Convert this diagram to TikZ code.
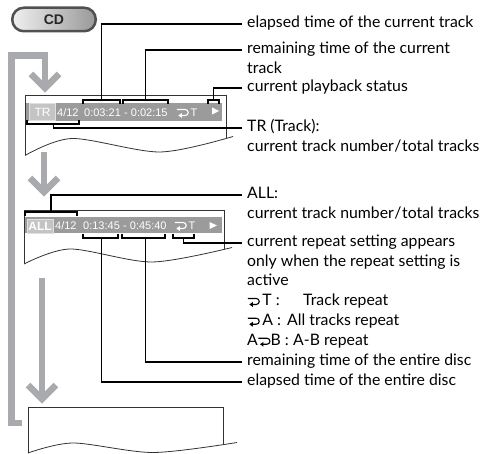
\documentclass[tikz,border=0pt]{standalone}
\usepackage{fontspec}
\setmainfont{Lato}
\newfontfamily\dispfont{Liberation Sans}
\usetikzlibrary{arrows.meta}
\definecolor{agray}{HTML}{A8AAAD}
\definecolor{bgray}{HTML}{9B9B9B}
\definecolor{sgray}{HTML}{C4C4C4}
\definecolor{pillborder}{HTML}{505050}
\newcommand\repsym{\tikz[baseline=0pt,x=1pt,y=1pt]{\draw[line width=1.1pt] (0,7) -- (8.5,7) arc[start angle=90,end angle=-90,radius=3] -- (4.5,1); \fill (1.5,1) -- (5,3.4) -- (5,-1.4) -- cycle;}}
\begin{document}
\begin{tikzpicture}[x=1pt,y=-1pt,
  garrow/.style={draw=agray,line width=6.5pt,line join=miter},
  outline/.style={draw=black!80,line width=0.8pt},
  brk/.style={draw=black,line width=1.5pt,line join=miter},
  lead/.style={draw=black,line width=1.5pt},
  lab/.style={anchor=west,inner xsep=5pt,inner ysep=0pt,text height=7.5pt,text depth=0pt,font=\fontsize{15.8}{18}\selectfont},
  disp/.style={text=white,font=\dispfont\fontsize{11}{12}\selectfont,inner sep=0pt,anchor=base west},
  selbox/.style={fill=sgray,draw=black!12,line width=0.8pt,text=white,font=\dispfont\fontsize{12}{12}\selectfont,inner sep=0pt},
  pill/.style={draw=pillborder,line width=2.5pt,rounded corners=11.5pt,left color=black!6,right color=black!40,minimum width=83.5pt,minimum height=23.5pt,inner sep=0pt,font=\dispfont\bfseries\fontsize{14}{14}\selectfont,text=black!85}]
\useasboundingbox (0,0) rectangle (481,454);

% CD button
\node[pill] (cd) at (54,19.5) {CD};

% gray flow arrows
\draw[garrow] (22,423) -- (11.5,423) -- (11.5,55.5) -- (45,55.5) -- (45,88);
\draw[garrow] (31,74) -- (45,88) -- (59,74);
\draw[garrow] (44,152) -- (44,192);
\draw[garrow] (30,178) -- (44,192) -- (58,178);
\draw[garrow] (42,278) -- (42,399);
\draw[garrow] (28,385) -- (42,399) -- (56,385);

% display 1
\draw[outline] (25,155.5) -- (25,95) -- (226,95) -- (226,138.5);
\draw[outline] plot[smooth,tension=0.5] coordinates {(25,155.5) (72,138.5) (160,152) (233,136.5)};
\fill[bgray] (26,103.5) rectangle (222,121);
\node[selbox,minimum width=26pt,minimum height=16.5pt] (tr) at (42.5,112) {TR};
\node[disp] (d1a) at (57,116.5) {4/12};
\node[disp] (d1b) at (84,116.5) {0:03:21};
\node[disp] (d1c) at (124,116.5) {- 0:02:15};
\node[disp] (d1d) at (176,116.5) {\repsym\,T};
\fill[white] (212,107.5) -- (219,111) -- (212,114.5) -- cycle;

% display 2
\draw[outline] (24,264) -- (24,210) -- (224,210) -- (224,248.5);
\draw[outline] plot[smooth,tension=0.5] coordinates {(24,264) (70,249) (152,262) (232,247.5)};
\fill[bgray] (25,217) rectangle (222,233);
\node[selbox,minimum width=26pt,minimum height=14pt] (all) at (40,226) {\bfseries ALL};
\node[disp] (d2a) at (55,229.5) {4/12};
\node[disp] (d2b) at (83,229.5) {0:13:45};
\node[disp] (d2c) at (123,229.5) {- 0:45:40};
\node[disp] (d2d) at (174,229.5) {\repsym\,T};
\fill[white] (209.5,222) -- (217,225.5) -- (209.5,229) -- cycle;

% display 3
\draw[outline] (28,453) -- (28,407) -- (223,407) -- (223,444);
\draw[outline] plot[smooth,tension=0.5] coordinates {(28,453) (73,443) (153,452.5) (237,442.5)};

% brackets
\draw[brk] (83,104) -- (83,100) -- (120,100) -- (120,104);
\draw[brk] (123,104) -- (123,100) -- (168,100) -- (168,104);
\draw[brk] (208,104) -- (208,100) -- (219,100) -- (219,104);
\draw[brk] (27,120.5) -- (27,124) -- (79,124) -- (79,120.5);
\draw[brk] (25,216) -- (25,212) -- (77,212) -- (77,216);
\draw[brk] (83,233.5) -- (83,238) -- (118,238) -- (118,233.5);
\draw[brk] (122,233.5) -- (122,238) -- (165,238) -- (165,233.5);
\draw[brk] (173,233.5) -- (173,238) -- (194,238) -- (194,233.5);

\coordinate (b1) at (101.5,100);
\coordinate (b2) at (145.5,100);
\coordinate (b3) at (213.5,100);
\coordinate (b4) at (53.5,124);
\coordinate (b5) at (51,212);
\coordinate (b6) at (183.5,238);
\coordinate (b7) at (145.5,238);
\coordinate (b8) at (101.5,238);

% labels
\node[lab] (l1) at (242,24) {elapsed time of the current track};
\node[lab] (l2) at (242,50) {remaining time of the current};
\node[lab] (l2b) at (242,69.7) {track};
\node[lab] (l3) at (242,88) {current playback status};
\node[lab] (l4) at (242,128) {TR (Track):};
\node[lab] (l4b) at (242,147.5) {current track number\kern0.6pt/\kern0.6pt total tracks};
\node[lab] (l5) at (242,195) {ALL:};
\node[lab] (l5b) at (242,214.5) {current track number\kern0.6pt/\kern0.6pt total tracks};
\node[lab] (l6) at (242,243) {current repeat setting appears};
\node[lab] (l6b) at (242,262.5) {only when the repeat setting is};
\node[lab] (l6c) at (242,282) {active};
\node[lab] (l6d) at (242,301.7) {\makebox[56pt][l]{\repsym\,T :}Track repeat};
\node[lab] (l6e) at (242,321.5) {\makebox[40pt][l]{\repsym\,A :}All tracks repeat};
\node[lab] (l6f) at (242,341.5) {\makebox[46pt][l]{A\repsym B :}A-B repeat};
\node[lab] (l7) at (242,362) {remaining time of the entire disc};
\node[lab] (l8) at (242,382) {elapsed time of the entire disc};

% leaders
\draw[lead] (b1) |- (l1.west);
\draw[lead] (b2) |- (l2.west);
\draw[lead] (b3) |- (l3.west);
\draw[lead] (b4) |- (l4.west);
\draw[lead] (b5) |- (l5.west);
\draw[lead] (b6) |- (l6.west);
\draw[lead] (b7) |- (l7.west);
\draw[lead] (b8) |- (l8.west);
\end{tikzpicture}
\end{document}
